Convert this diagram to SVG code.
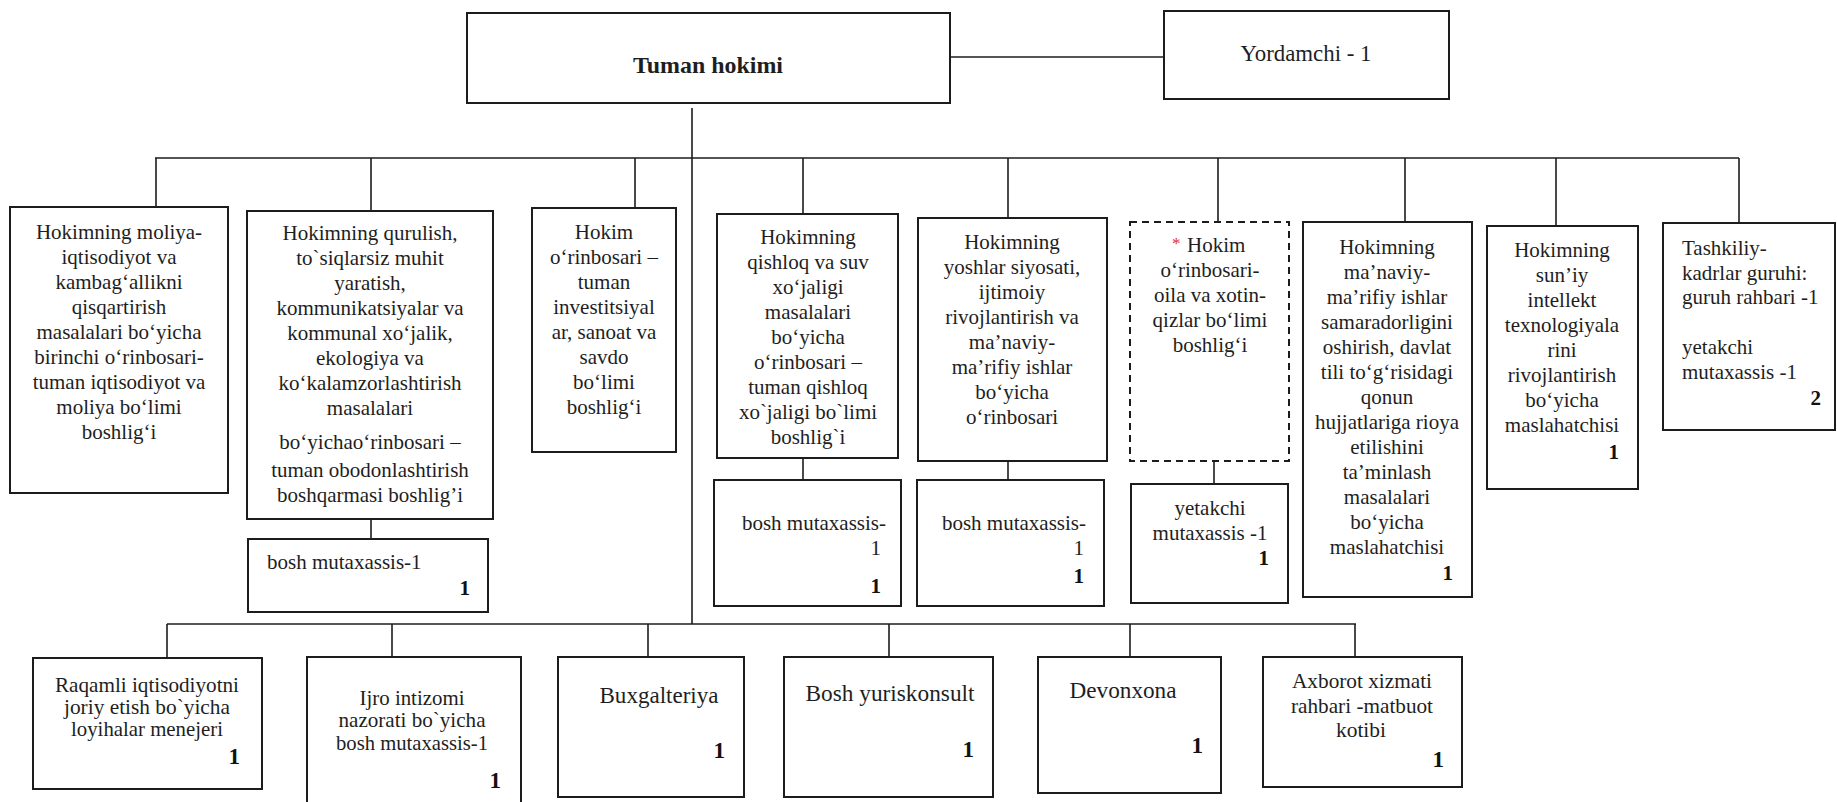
<svg xmlns="http://www.w3.org/2000/svg" width="1837" height="802" viewBox="0 0 1837 802">
<style>
.box{fill:#fff;stroke:#1c1c1c;stroke-width:2}
.dash{fill:#fff;stroke:#1c1c1c;stroke-width:2;stroke-dasharray:7 5}
.ln{stroke:#1c1c1c;stroke-width:1.6;fill:none}
.t{font-family:"Liberation Serif","Times New Roman",serif;font-size:21px;fill:#1e1e1e}
.c{text-anchor:middle}
.e{text-anchor:end}
.b{font-weight:bold}
.n{font-family:"Liberation Serif","Times New Roman",serif;font-size:21px;font-weight:bold;fill:#111;text-anchor:end}
.bt{font-family:"Liberation Serif","Times New Roman",serif;font-size:24px;fill:#1e1e1e;text-anchor:middle}
.bm{font-family:"Liberation Serif","Times New Roman",serif;font-size:21px;fill:#1e1e1e;text-anchor:middle}
.nb{font-family:"Liberation Serif","Times New Roman",serif;font-size:23px;font-weight:bold;fill:#111;text-anchor:end}
</style>
<rect width="1837" height="802" fill="#fff"/>

<g id="connectors">
<line class="ln" x1="950" y1="57" x2="1164" y2="57"/>
<line class="ln" x1="692" y1="108" x2="692" y2="624"/>
<line class="ln" x1="155" y1="158" x2="1739" y2="158"/>
<line class="ln" x1="156" y1="158" x2="156" y2="207"/>
<line class="ln" x1="371" y1="158" x2="371" y2="211"/>
<line class="ln" x1="635" y1="158" x2="635" y2="208"/>
<line class="ln" x1="803" y1="158" x2="803" y2="214"/>
<line class="ln" x1="1008" y1="158" x2="1008" y2="218"/>
<line class="ln" x1="1218" y1="158" x2="1218" y2="222"/>
<line class="ln" x1="1405" y1="158" x2="1405" y2="222"/>
<line class="ln" x1="1556" y1="158" x2="1556" y2="226"/>
<line class="ln" x1="1739" y1="158" x2="1739" y2="223"/>
<line class="ln" x1="371" y1="519" x2="371" y2="539"/>
<line class="ln" x1="803" y1="458" x2="803" y2="480"/>
<line class="ln" x1="1008" y1="461" x2="1008" y2="480"/>
<line class="ln" x1="1214" y1="461" x2="1214" y2="484"/>
<line class="ln" x1="167" y1="624" x2="1356" y2="624"/>
<line class="ln" x1="167" y1="624" x2="167" y2="658"/>
<line class="ln" x1="392" y1="624" x2="392" y2="657"/>
<line class="ln" x1="648" y1="624" x2="648" y2="657"/>
<line class="ln" x1="889" y1="624" x2="889" y2="657"/>
<line class="ln" x1="1130" y1="624" x2="1130" y2="657"/>
<line class="ln" x1="1355" y1="624" x2="1355" y2="657"/>
</g>

<g id="tuman-hokimi">
<rect class="box" x="467" y="13" width="483" height="90"/>
<text class="bt b" x="708" y="73" textLength="150" lengthAdjust="spacingAndGlyphs">Tuman hokimi</text>
</g>

<g id="yordamchi">
<rect class="box" x="1164" y="11" width="285" height="88"/>
<text class="bt" x="1306" y="61" textLength="131" lengthAdjust="spacingAndGlyphs">Yordamchi - 1</text>
</g>

<g id="n1">
<rect class="box" x="10" y="207" width="218" height="286"/>
<text class="t c" x="119" y="239">Hokimning moliya-</text>
<text class="t c" x="119" y="264">iqtisodiyot va</text>
<text class="t c" x="119" y="289">kambag‘allikni</text>
<text class="t c" x="119" y="314">qisqartirish</text>
<text class="t c" x="119" y="339">masalalari bo‘yicha</text>
<text class="t c" x="119" y="364">birinchi o‘rinbosari-</text>
<text class="t c" x="119" y="389">tuman iqtisodiyot va</text>
<text class="t c" x="119" y="414">moliya bo‘limi</text>
<text class="t c" x="119" y="439">boshlig‘i</text>
</g>

<g id="n2">
<rect class="box" x="247" y="211" width="246" height="308"/>
<text class="t c" x="370" y="240">Hokimning qurulish,</text>
<text class="t c" x="370" y="265">to`siqlarsiz muhit</text>
<text class="t c" x="370" y="290">yaratish,</text>
<text class="t c" x="370" y="315">kommunikatsiyalar va</text>
<text class="t c" x="370" y="340">kommunal xo‘jalik,</text>
<text class="t c" x="370" y="365">ekologiya va</text>
<text class="t c" x="370" y="390">ko‘kalamzorlashtirish</text>
<text class="t c" x="370" y="415">masalalari</text>
<text class="t c" x="370" y="449">bo‘yichao‘rinbosari –</text>
<text class="t c" x="370" y="477">tuman obodonlashtirish</text>
<text class="t c" x="370" y="502">boshqarmasi boshlig’i</text>
</g>

<g id="n2-sub">
<rect class="box" x="248" y="539" width="240" height="73"/>
<text class="t" x="267" y="569">bosh mutaxassis-1</text>
<text class="n" x="470" y="595">1</text>
</g>

<g id="n3">
<rect class="box" x="532" y="208" width="144" height="244"/>
<text class="t c" x="604" y="239">Hokim</text>
<text class="t c" x="604" y="264">o‘rinbosari –</text>
<text class="t c" x="604" y="289">tuman</text>
<text class="t c" x="604" y="314">investitsiyal</text>
<text class="t c" x="604" y="339">ar, sanoat va</text>
<text class="t c" x="604" y="364">savdo</text>
<text class="t c" x="604" y="389">bo‘limi</text>
<text class="t c" x="604" y="414">boshlig‘i</text>
</g>

<g id="n4">
<rect class="box" x="717" y="214" width="181" height="244"/>
<text class="t c" x="808" y="244">Hokimning</text>
<text class="t c" x="808" y="269">qishloq va suv</text>
<text class="t c" x="808" y="294">xo‘jaligi</text>
<text class="t c" x="808" y="319">masalalari</text>
<text class="t c" x="808" y="344">bo‘yicha</text>
<text class="t c" x="808" y="369">o‘rinbosari –</text>
<text class="t c" x="808" y="394">tuman qishloq</text>
<text class="t c" x="808" y="419">xo`jaligi bo`limi</text>
<text class="t c" x="808" y="444">boshlig`i</text>
</g>

<g id="n4-sub">
<rect class="box" x="714" y="480" width="187" height="126"/>
<text class="t e" x="886" y="530">bosh mutaxassis-</text>
<text class="t e" x="881" y="555">1</text>
<text class="n" x="881" y="593">1</text>
</g>

<g id="n5">
<rect class="box" x="918" y="218" width="189" height="243"/>
<text class="t c" x="1012" y="249">Hokimning</text>
<text class="t c" x="1012" y="274">yoshlar siyosati,</text>
<text class="t c" x="1012" y="299">ijtimoiy</text>
<text class="t c" x="1012" y="324">rivojlantirish va</text>
<text class="t c" x="1012" y="349">ma’naviy-</text>
<text class="t c" x="1012" y="374">ma’rifiy ishlar</text>
<text class="t c" x="1012" y="399">bo‘yicha</text>
<text class="t c" x="1012" y="424">o‘rinbosari</text>
</g>

<g id="n5-sub">
<rect class="box" x="917" y="480" width="187" height="126"/>
<text class="t e" x="1086" y="530">bosh mutaxassis-</text>
<text class="t e" x="1084" y="555">1</text>
<text class="n" x="1084" y="583">1</text>
</g>

<g id="n6">
<rect class="dash" x="1130" y="222" width="159" height="239"/>
<text x="1172" y="249" style="font-family:'Liberation Serif',serif;font-size:17px;fill:#e03030">*</text>
<text class="t" x="1187" y="252">Hokim</text>
<text class="t c" x="1210" y="277">o‘rinbosari-</text>
<text class="t c" x="1210" y="302">oila va xotin-</text>
<text class="t c" x="1210" y="327">qizlar bo‘limi</text>
<text class="t c" x="1210" y="352">boshlig‘i</text>
</g>

<g id="n6-sub">
<rect class="box" x="1131" y="484" width="157" height="119"/>
<text class="t c" x="1210" y="515">yetakchi</text>
<text class="t c" x="1210" y="540">mutaxassis -1</text>
<text class="n" x="1269" y="565">1</text>
</g>

<g id="n7">
<rect class="box" x="1303" y="222" width="169" height="375"/>
<text class="t c" x="1387" y="254">Hokimning</text>
<text class="t c" x="1387" y="279">ma’naviy-</text>
<text class="t c" x="1387" y="304">ma’rifiy ishlar</text>
<text class="t c" x="1387" y="329">samaradorligini</text>
<text class="t c" x="1387" y="354">oshirish, davlat</text>
<text class="t c" x="1387" y="379">tili to‘g‘risidagi</text>
<text class="t c" x="1387" y="404">qonun</text>
<text class="t c" x="1387" y="429">hujjatlariga rioya</text>
<text class="t c" x="1387" y="454">etilishini</text>
<text class="t c" x="1387" y="479">ta’minlash</text>
<text class="t c" x="1387" y="504">masalalari</text>
<text class="t c" x="1387" y="529">bo‘yicha</text>
<text class="t c" x="1387" y="554">maslahatchisi</text>
<text class="n" x="1453" y="580">1</text>
</g>

<g id="n8">
<rect class="box" x="1487" y="226" width="151" height="263"/>
<text class="t c" x="1562" y="257">Hokimning</text>
<text class="t c" x="1562" y="282">sun’iy</text>
<text class="t c" x="1562" y="307">intellekt</text>
<text class="t c" x="1562" y="332">texnologiyala</text>
<text class="t c" x="1562" y="357">rini</text>
<text class="t c" x="1562" y="382">rivojlantirish</text>
<text class="t c" x="1562" y="407">bo‘yicha</text>
<text class="t c" x="1562" y="432">maslahatchisi</text>
<text class="n" x="1619" y="459">1</text>
</g>

<g id="n9">
<rect class="box" x="1663" y="223" width="172" height="207"/>
<text class="t" x="1682" y="255">Tashkiliy-</text>
<text class="t" x="1682" y="280">kadrlar guruhi:</text>
<text class="t" x="1682" y="304">guruh rahbari -1</text>
<text class="t" x="1682" y="354">yetakchi</text>
<text class="t" x="1682" y="379">mutaxassis -1</text>
<text class="n" x="1821" y="405">2</text>
</g>

<g id="b1">
<rect class="box" x="33" y="658" width="229" height="131"/>
<text class="bm" x="147" y="692" textLength="184" lengthAdjust="spacingAndGlyphs">Raqamli iqtisodiyotni</text>
<text class="bm" x="147" y="714" textLength="166" lengthAdjust="spacingAndGlyphs">joriy etish bo`yicha</text>
<text class="bm" x="147" y="736" textLength="152" lengthAdjust="spacingAndGlyphs">loyihalar menejeri</text>
<text class="nb" x="240" y="764">1</text>
</g>

<g id="b2">
<rect class="box" x="307" y="657" width="214" height="155"/>
<text class="bm" x="412" y="705" textLength="105" lengthAdjust="spacingAndGlyphs">Ijro intizomi</text>
<text class="bm" x="412" y="727" textLength="147" lengthAdjust="spacingAndGlyphs">nazorati bo`yicha</text>
<text class="bm" x="412" y="750" textLength="152" lengthAdjust="spacingAndGlyphs">bosh mutaxassis-1</text>
<text class="nb" x="501" y="788">1</text>
</g>

<g id="b3">
<rect class="box" x="558" y="657" width="186" height="140"/>
<text class="bt" x="659" y="703" textLength="119" lengthAdjust="spacingAndGlyphs">Buxgalteriya</text>
<text class="nb" x="725" y="758">1</text>
</g>

<g id="b4">
<rect class="box" x="784" y="657" width="209" height="140"/>
<text class="bt" x="890" y="701" textLength="169" lengthAdjust="spacingAndGlyphs">Bosh yuriskonsult</text>
<text class="nb" x="974" y="757">1</text>
</g>

<g id="b5">
<rect class="box" x="1038" y="657" width="183" height="136"/>
<text class="bt" x="1123" y="698" textLength="107" lengthAdjust="spacingAndGlyphs">Devonxona</text>
<text class="nb" x="1203" y="753">1</text>
</g>

<g id="b6">
<rect class="box" x="1263" y="657" width="199" height="130"/>
<text class="bm" x="1362" y="688" textLength="140" lengthAdjust="spacingAndGlyphs">Axborot xizmati</text>
<text class="bm" x="1362" y="713" textLength="142" lengthAdjust="spacingAndGlyphs">rahbari -matbuot</text>
<text class="bm" x="1361" y="737" textLength="50" lengthAdjust="spacingAndGlyphs">kotibi</text>
<text class="nb" x="1444" y="767">1</text>
</g>
</svg>
